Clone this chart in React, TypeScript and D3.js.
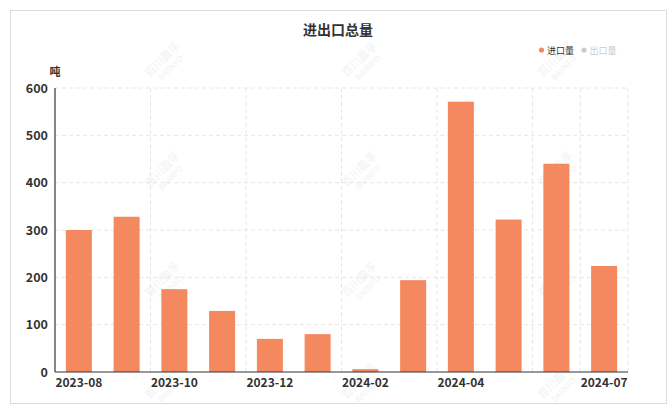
import React from "react";
import * as d3 from "d3";

const months = ["2023-08","2023-09","2023-10","2023-11","2023-12","2024-01","2024-02","2024-03","2024-04","2024-05","2024-06","2024-07"];
const importValues = [300, 328, 175, 129, 70, 80, 6, 194, 571, 322, 440, 224];
const shownLabels = ["2023-08","2023-10","2023-12","2024-02","2024-04","2024-07"];
const gridBoundaryIdx = [2, 4, 6, 8, 10, 11, 12];
const yTicks = [0, 100, 200, 300, 400, 500, 600];
const legendItems = ["进口量", "出口量"];
const watermarkXs = [165, 362, 558];
const watermarkYs = [62, 172, 282, 384];

const W = 671, H = 410;
const left = 55, right = 628, top = 88, bottom = 372;
const font = "'Noto Sans CJK SC', 'Noto Sans', sans-serif";

export default function App() {
  const x = d3.scaleBand<string>().domain(months).range([left, right]).paddingInner(0.455).paddingOuter(0.2275);
  const y = d3.scaleLinear().domain([0, 600]).range([bottom, top]);
  const step = (right - left) / months.length;
  const barColor = "#f4895f";
  return (
    <svg width={W} height={H} style={{ position: "absolute", left: 0, top: 0, fontFamily: font }}>
      <rect x={10.5} y={10.5} width={656} height={393} fill="#fff" stroke="#dcdcdc" />
      {watermarkYs.map((wy) => watermarkXs.map((wx) => (
        <g key={wx + "-" + wy} transform={`translate(${wx},${wy}) rotate(-45)`} opacity={0.5}>
          <text x={0} y={0} fontSize={11} fill="#e6e6e6" textAnchor="middle">百川盈孚</text>
          <text x={0} y={11} fontSize={8} fill="#e6e6e6" textAnchor="middle">BAIINFO</text>
        </g>
      )))}
      <text x={338} y={35} textAnchor="middle" fontSize={14} fontWeight="bold" fill="#333">进出口总量</text>
      <circle cx={541.5} cy={50} r={2.6} fill={barColor} />
      <text x={547} y={53.5} fontSize={9} fill="#333">{legendItems[0]}</text>
      <circle cx={584} cy={50} r={2.6} fill="#ccc" />
      <text x={589.5} y={53.5} fontSize={9} fill="#ccc">{legendItems[1]}</text>
      <text x={55} y={76} textAnchor="middle" fontSize={11} fontWeight="bold" fill="#333">吨</text>
      {yTicks.filter((t) => t > 0).map((t) => (
        <line key={"h" + t} x1={left} x2={right} y1={y(t)} y2={y(t)} stroke="#e6e6e6" strokeDasharray="4,3" />
      ))}
      {gridBoundaryIdx.map((i) => (
        <line key={"v" + i} x1={left + i * step} x2={left + i * step} y1={top} y2={bottom} stroke="#e6e6e6" strokeDasharray="4,3" />
      ))}
      {months.map((m, i) => (
        <rect key={m} x={x(m)} y={y(importValues[i])} width={x.bandwidth()} height={bottom - y(importValues[i])} fill={barColor} />
      ))}
      <line x1={left} x2={left} y1={top} y2={bottom} stroke="#333" strokeWidth={1.2} />
      <line x1={left} x2={right} y1={bottom} y2={bottom} stroke="#333" strokeWidth={1.2} />
      {yTicks.map((t) => (
        <text key={"yl" + t} x={48} y={y(t) + 4.5} textAnchor="end" fontSize={12.5} fontWeight="bold" fill="#333">{t}</text>
      ))}
      {shownLabels.map((m) => (
        <text key={"xl" + m} x={(x(m) as number) + x.bandwidth() / 2} y={387} textAnchor="middle" fontSize={12} fontWeight="bold" fill="#333">{m}</text>
      ))}
    </svg>
  );
}
